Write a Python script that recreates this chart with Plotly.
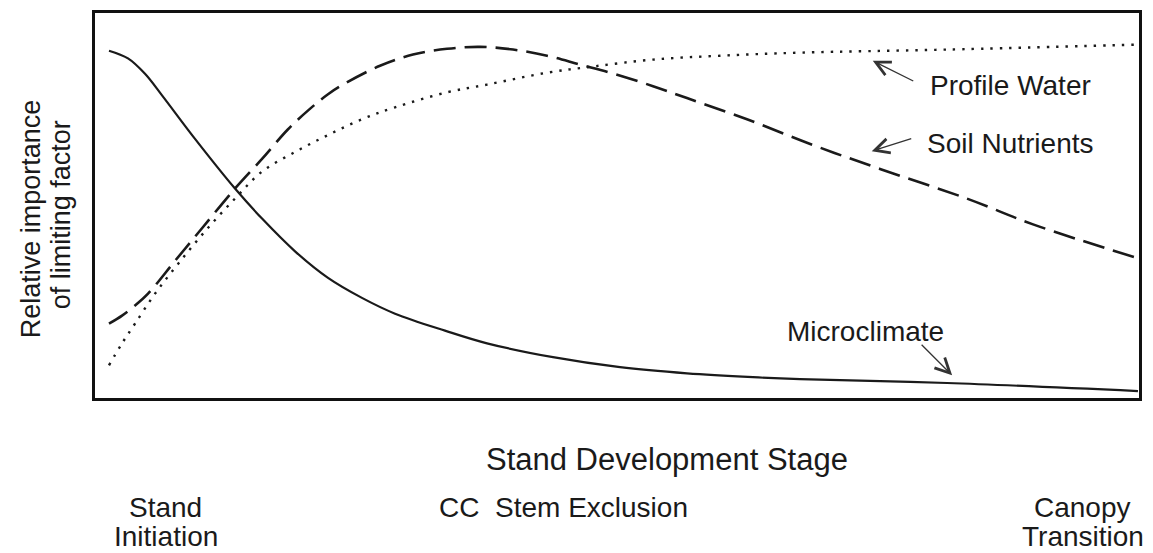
import plotly.graph_objects as go

# Stand development stage (0-100) and relative importance (0-100)
micro_x = [1.34, 3.16, 4.79, 6.42, 9.58, 13.41, 16.0, 19.16, 22.32, 25.57, 28.74, 33.52, 37.55,
           43.87, 50.29, 56.70, 63.03, 67.53, 81.61, 99.9]
micro_y = [90.2, 88.2, 84.2, 78.6, 67.3, 54.4, 46.6, 38.1, 31.2, 26.0, 21.9, 17.5, 14.2,
           10.6, 8.0, 6.4, 5.4, 4.9, 3.9, 1.8]

soil_x = [1.34, 2.59, 3.83, 5.08, 7.66, 10.25, 13.41, 16.0, 18.49, 20.50, 22.32, 23.95, 27.30,
          30.46, 33.72, 36.88, 40.04, 43.30, 46.46, 49.62, 53.45, 56.70, 62.45, 68.77, 75.19,
          83.52, 89.85, 99.9]
soil_y = [19.3, 21.4, 24.0, 27.1, 35.6, 44.1, 54.4, 62.1, 69.8, 74.9, 78.9, 81.7, 86.3,
          89.2, 90.7, 91.2, 90.5, 88.9, 86.6, 84.3, 81.0, 77.9, 72.4, 65.7, 59.5,
          51.8, 45.1, 36.3]

water_x = [1.34, 2.59, 3.83, 5.75, 7.95, 10.54, 13.41, 16.0, 19.16, 22.32, 25.57, 28.74, 33.72,
           37.55, 43.30, 47.70, 53.45, 59.87, 67.53, 81.61, 99.9]
water_y = [8.5, 14.2, 19.3, 27.1, 34.8, 43.3, 51.8, 58.8, 63.9, 68.3, 72.4, 75.5, 79.4,
           81.4, 84.5, 86.1, 87.9, 88.9, 89.7, 90.5, 91.8]

series_names = ["Microclimate", "Soil Nutrients", "Profile Water"]
stage_top = ["Stand", "CC&nbsp;&nbsp;Stem Exclusion", "Canopy"]
stage_bottom = ["Initiation", "", "Transition"]
x_title = "Stand Development Stage"
y_title_lines = ["Relative importance", "of limiting factor"]

FONT = "Liberation Sans, Arial, sans-serif"
INK = "#1a1a1a"

fig = go.Figure()
fig.add_trace(go.Scatter(x=micro_x, y=micro_y, mode="lines", name=series_names[0],
                         line=dict(color=INK, width=2.2, shape="spline", smoothing=1.0)))
fig.add_trace(go.Scatter(x=soil_x, y=soil_y, mode="lines", name=series_names[1],
                         line=dict(color=INK, width=2.6, shape="spline", smoothing=1.0,
                                   dash="22px,9px")))
fig.add_trace(go.Scatter(x=water_x, y=water_y, mode="lines", name=series_names[2],
                         line=dict(color=INK, width=2.4, shape="spline", smoothing=1.0,
                                   dash="2.4px,7px")))

ann = []
label_font = dict(family=FONT, size=28, color=INK)
# curve labels
ann.append(dict(x=79.8, y=81.3, xref="x", yref="y", text=series_names[2], showarrow=False,
                xanchor="left", yanchor="middle", font=label_font))
ann.append(dict(x=79.5, y=66.0, xref="x", yref="y", text=series_names[1], showarrow=False,
                xanchor="left", yanchor="middle", font=label_font))
ann.append(dict(x=66.1, y=17.3, xref="x", yref="y", text=series_names[0], showarrow=False,
                xanchor="left", yanchor="middle", font=label_font))
# arrows
for tx, ty, axp, ayp in [(74.5, 87.6, 42, 21), (74.4, 64.1, 41, -13), (82.1, 5.9, -32, -32)]:
    ann.append(dict(x=tx, y=ty, xref="x", yref="y", text="", showarrow=True, ax=axp, ay=ayp,
                    arrowhead=5, arrowsize=2.2, arrowwidth=1.3, arrowcolor="#333", standoff=0))
# axis titles
ann.append(dict(x=0.548, y=-0.160, xref="paper", yref="paper", text=x_title,
                showarrow=False, xanchor="center", yanchor="middle",
                font=dict(family=FONT, size=31, color=INK)))
for yx, yy, txt in zip([-0.0613, -0.0326], [0.464, 0.477], y_title_lines):
    ann.append(dict(x=yx, y=yy, xref="paper", yref="paper", text=txt, textangle=-90,
                    showarrow=False, xanchor="center", yanchor="middle",
                    font=dict(family=FONT, size=27, color=INK)))
# stage labels
stage_x = [0.068, 0.328, 0.946]
stage_anchor = ["center", "left", "center"]
for sx, anc, top, bot in zip(stage_x, stage_anchor, stage_top, stage_bottom):
    ann.append(dict(x=sx, y=-0.2835, xref="paper", yref="paper", text=top, showarrow=False,
                    xanchor=anc, yanchor="middle", font=label_font))
    if bot:
        ann.append(dict(x=sx, y=-0.361, xref="paper", yref="paper", text=bot, showarrow=False,
                        xanchor=anc, yanchor="middle", font=label_font))

# the page has an 8px body margin, so the figure is shifted to line up with the window
fig.update_layout(
    width=1145, height=545,
    margin=dict(l=87, r=14, t=2, b=155),
    paper_bgcolor="white", plot_bgcolor="white",
    showlegend=False,
    annotations=ann,
    font=dict(family=FONT, color=INK),
)
fig.update_xaxes(range=[0, 100], showgrid=False, zeroline=False, showticklabels=False, ticks="",
                 showline=True, mirror=True, linecolor="#111", linewidth=3)
fig.update_yaxes(range=[0, 100], showgrid=False, zeroline=False, showticklabels=False, ticks="",
                 showline=True, mirror=True, linecolor="#111", linewidth=3)

fig.write_html("out.html")
